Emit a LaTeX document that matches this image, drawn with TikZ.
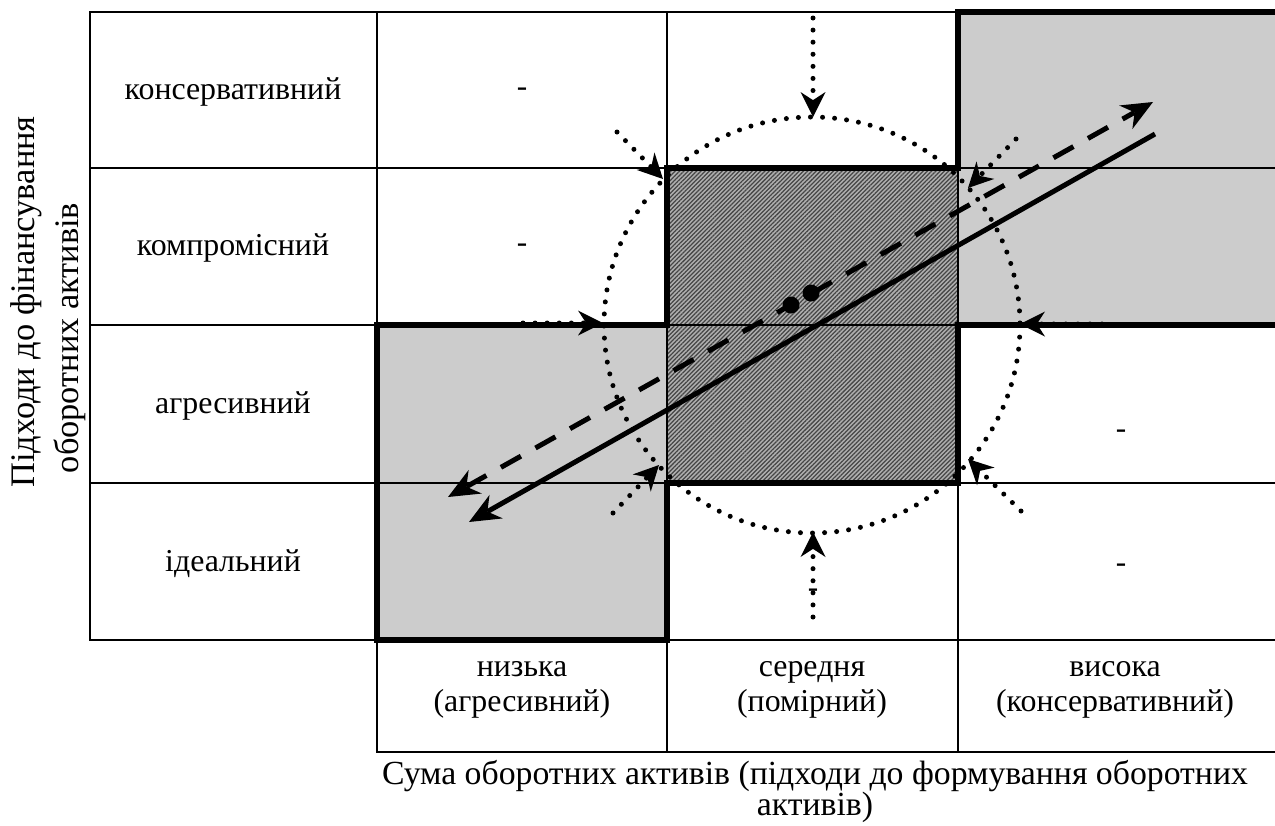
\documentclass[tikz,border=0pt]{standalone}
\usepackage{fontspec}
\setmainfont{Liberation Serif}
\usetikzlibrary{arrows.meta,patterns.meta}
\definecolor{cellgray}{RGB}{204,204,204}
\definecolor{hatchbg}{RGB}{175,175,175}
\definecolor{hatchfg}{RGB}{70,70,70}
\begin{document}
\begin{tikzpicture}[x=0.48pt,y=-0.48pt,
  gridline/.style={line width=1.2pt},
  thickline/.style={line width=2.6pt,line join=miter},
  dotline/.style={line width=2.4pt,line cap=round,dash pattern=on 0pt off 5.8pt},
  dotarrow/.style={dotline,-{Stealth[length=12pt,width=12pt,line width=0pt]}},
  mainline/.style={line width=2.4pt,-{Stealth[length=15pt,width=13pt,line width=0pt]}},
  dashline/.style={line width=2.4pt,dash pattern=on 11pt off 8pt,
     {Stealth[length=15pt,width=13pt,line width=0pt]}-{Stealth[length=15pt,width=13pt,line width=0pt]}},
  lbl/.style={font=\fontsize{15.3}{16.8}\selectfont,inner sep=0pt,align=center},
  caplbl/.style={font=\fontsize{16.2}{18}\selectfont,inner sep=0pt,anchor=base},
  axislbl/.style={font=\fontsize{16.5}{18}\selectfont,inner sep=0pt,rotate=90,anchor=base},
  hyph/.style={font=\fontsize{15}{16.5}\selectfont,inner sep=0pt}]
\useasboundingbox (0,0) rectangle (1275,825);
% fills
\fill[cellgray] (958,12) rectangle (1290,325);
\fill[cellgray] (377,325) rectangle (667,640);
\fill[hatchbg] (667,168) rectangle (958,483);
\fill[pattern={Lines[angle=45,distance=1.45pt,line width=0.6pt]},pattern color=hatchfg] (667,168) rectangle (958,483);
% grid
\draw[gridline] (90,12) rectangle (1290,640);
\foreach \xx in {377,667,958} \draw[gridline] (\xx,12) -- (\xx,640);
\foreach \yy in {168,325,483} \draw[gridline] (90,\yy) -- (1290,\yy);
\draw[gridline] (377,640) rectangle (1290,752);
\foreach \xx in {667,958} \draw[gridline] (\xx,640) -- (\xx,752);
% thick staircase outline
\draw[thickline] (377,640) -- (377,325) -- (667,325) -- (667,168) -- (958,168) -- (958,12) -- (1290,12)
  -- (1290,325) -- (958,325) -- (958,483) -- (667,483) -- (667,640) -- cycle;
% row labels
\node[lbl] (r1) at (233,92) {консервативний};
\node[lbl] (r2) at (233,248) {компромісний};
\node[lbl] (r3) at (233,406) {агресивний};
\node[lbl] (r4) at (233,564) {ідеальний};
% column labels
\node[lbl] (c1) at (522,690) {низька\\(агресивний)};
\node[lbl] (c2) at (812,690) {середня\\(помірний)};
\node[lbl] (c3) at (1115,690) {висока\\(консервативний)};
% axis labels
\node[axislbl] (ya) at (35,302) {Підходи до фінансування};
\node[axislbl] (yb) at (78,338) {оборотних активів};
\node[caplbl] (xa) at (815,784) {Сума оборотних активів (підходи до формування оборотних};
\node[caplbl] (xb) at (815,815) {активів)};
% hyphens
\node[hyph] (h1) at (522,92) {-};
\node[hyph] (h2) at (522,248) {-};
\node[hyph] (h3) at (1121,434) {-};
\node[hyph] (h4) at (1121,568) {-};
\node[hyph] (h5) at (813,593) {-};
% dotted circle
\coordinate (ctr) at (812,325);
\draw[dotline] (ctr) circle[radius=208];
% inward dotted arrows
\coordinate (tS) at (813,18);  \coordinate (tE) at (813,117);
\coordinate (bS) at (813,617); \coordinate (bE) at (813,532);
\coordinate (lS) at (523,323); \coordinate (lE) at (603,323);
\coordinate (rS) at (1102,324); \coordinate (rE) at (1020,324);
\coordinate (ulS) at (617,132); \coordinate (ulE) at (663,179);
\coordinate (urS) at (1016,139); \coordinate (urE) at (968,188);
\coordinate (llS) at (613,513); \coordinate (llE) at (659,465);
\coordinate (lrS) at (1021,511); \coordinate (lrE) at (968,459);
\foreach \a in {t,b,l,r,ul,ur,ll,lr} \draw[dotarrow] (\a S) -- (\a E);
% main lines
\coordinate (sA) at (1155,134); \coordinate (sB) at (469,522);
\draw[mainline] (sA) -- (sB);
\coordinate (dA) at (1153,102); \coordinate (dB) at (448,497);
\draw[dashline] (dB) -- (dA);
% dots
\fill (791,305) circle[radius=8.5];
\fill (811,293) circle[radius=8.5];
\end{tikzpicture}
\end{document}
